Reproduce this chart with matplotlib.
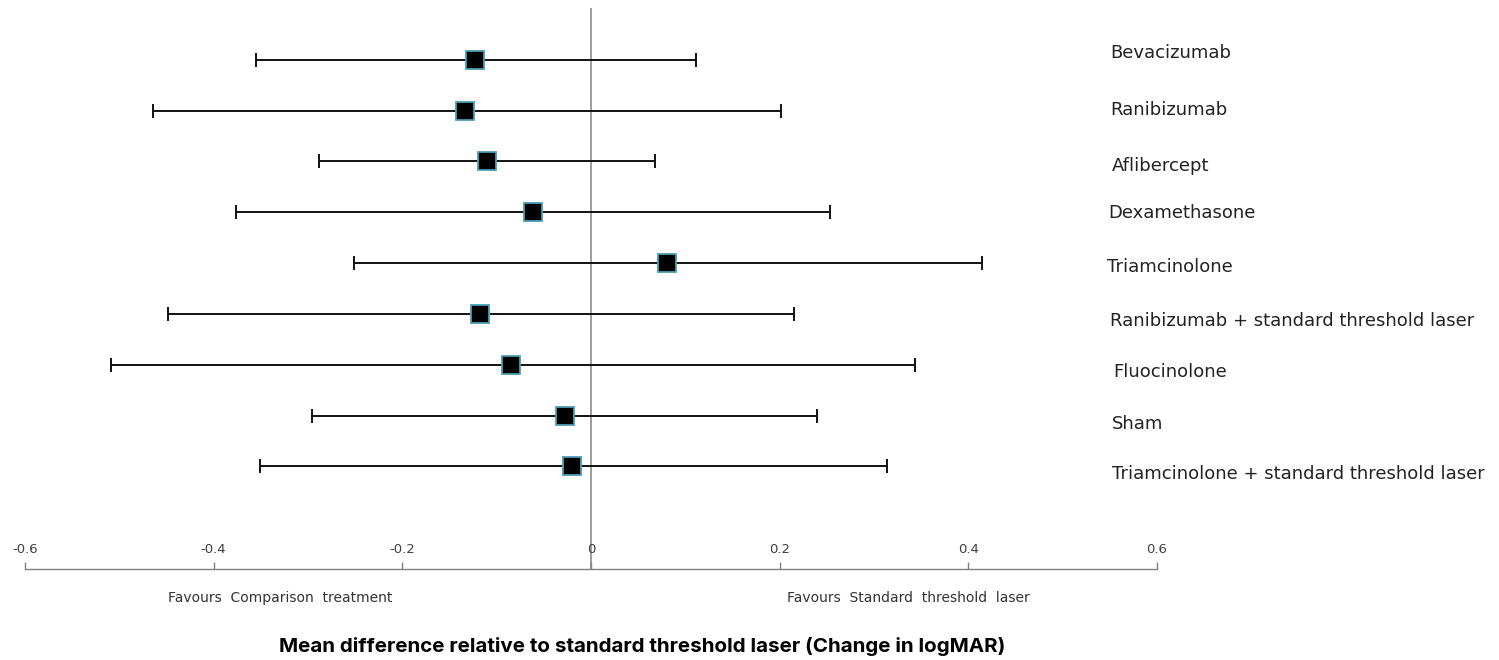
import matplotlib
matplotlib.use("Agg")
import matplotlib.pyplot as plt
import matplotlib.transforms as mtransforms

plt.rcParams['font.family'] = ['DejaVu Sans']

# data (change in logMAR vs standard threshold laser)
treatments = [
    "Bevacizumab",
    "Ranibizumab",
    "Aflibercept",
    "Dexamethasone",
    "Triamcinolone",
    "Ranibizumab + standard threshold laser",
    "Fluocinolone",
    "Sham",
    "Triamcinolone + standard threshold laser",
]
mean_diff = [-0.123, -0.134, -0.110, -0.061, 0.081, -0.118, -0.085, -0.028, -0.020]
ci_low = [-0.355, -0.464, -0.288, -0.376, -0.251, -0.448, -0.509, -0.296, -0.351]
ci_high = [0.111, 0.201, 0.068, 0.253, 0.414, 0.215, 0.343, 0.240, 0.314]
xticks = [-0.6, -0.4, -0.2, 0, 0.2, 0.4, 0.6]
xtick_labels = ["-0.6", "-0.4", "-0.2", "0", "0.2", "0.4", "0.6"]

# the row labels in the original sit a little off the rows (pixels)
label_dx = [0, 0, 2, -2, -3, 0, 3, 2, 2]
label_dy = [-7, -1, 5, 1, 4, 7, 7, 8, 8]

W, H = 1499, 660
fig = plt.figure(figsize=(W / 100, H / 100), dpi=100)
# axes: x -0.6..0.6 spans px 25..1157, top at px 8, axis line at px 569
ax = fig.add_axes([25 / W, 1 - 569 / H, 1132 / W, (569 - 8) / H])

rows = list(range(len(treatments)))
xerr = [[m - lo for m, lo in zip(mean_diff, ci_low)],
        [hi - m for m, hi in zip(mean_diff, ci_high)]]

ax.axvline(0, color="#8c8c8c", lw=1.2, zorder=1)
ax.errorbar(mean_diff, rows, xerr=xerr, fmt="none", ecolor="#111111",
            elinewidth=1.4, capsize=5, capthick=1.4, zorder=2)
ax.plot(mean_diff, rows, "s", ms=13, mfc="black", mec="#4a9db3", mew=1.3,
        zorder=3, ls="none")

ax.set_xlim(-0.6, 0.6)
ax.set_ylim(10.02, -1.02)
ax.set_xticks(xticks)
ax.set_xticklabels(xtick_labels)
ax.tick_params(axis="x", direction="in", length=5, width=1, color="#808080",
               pad=-19, labelsize=9.5, labelcolor="#404040")
ax.set_yticks([])
for s in ["top", "left", "right"]:
    ax.spines[s].set_visible(False)
ax.spines["bottom"].set_color("#808080")
ax.spines["bottom"].set_linewidth(1)

trans = mtransforms.blended_transform_factory(fig.transFigure, ax.transData)
for r, name, dx, dy in zip(rows, treatments, label_dx, label_dy):
    off = mtransforms.offset_copy(trans, fig=fig, x=dx, y=-dy, units="dots")
    ax.text(1110 / W, r, name, transform=off, ha="left", va="center",
            fontsize=13, color="#222222")

fig.text(280 / W, 1 - 598 / H, "Favours  Comparison  treatment", ha="center",
         va="center", fontsize=10, color="#333333")
fig.text(908 / W, 1 - 598 / H, "Favours  Standard  threshold  laser",
         ha="center", va="center", fontsize=10, color="#333333")
fig.text(642 / W, 1 - 646 / H,
         "Mean difference relative to standard threshold laser (Change in logMAR)",
         ha="center", va="center", fontsize=14.8, fontweight="bold",
         color="black", family=["Inter", "DejaVu Sans"])

fig.savefig("out.png", dpi=100, facecolor="white")
